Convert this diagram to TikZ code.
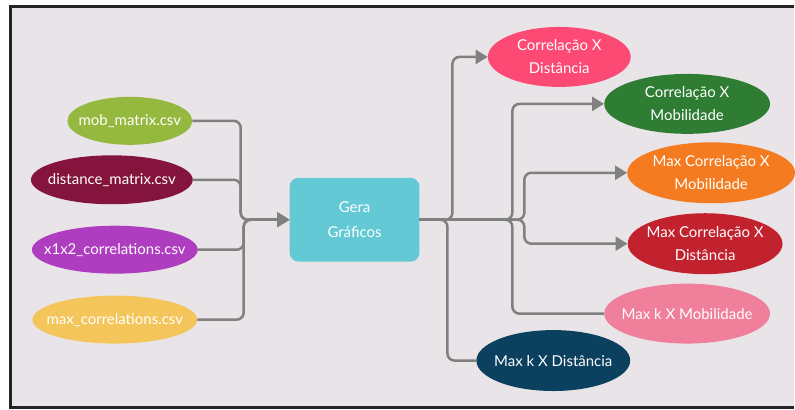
\documentclass[tikz,border=0pt]{standalone}
\usepackage{fontspec}
\setmainfont{Lato}
\usepackage{xcolor}
\usetikzlibrary{shapes.geometric,arrows.meta}

\definecolor{fundo}{HTML}{E8E4E8}
\definecolor{moldura}{HTML}{232328}
\definecolor{cinza}{HTML}{808080}
\definecolor{verdeclaro}{HTML}{95B83E}
\definecolor{vinho}{HTML}{84143C}
\definecolor{roxo}{HTML}{AE3DC0}
\definecolor{amarelo}{HTML}{F4C55A}
\definecolor{ciano}{HTML}{62C9D5}
\definecolor{rosa}{HTML}{FC4A75}
\definecolor{verde}{HTML}{2E7D33}
\definecolor{laranja}{HTML}{F47B20}
\definecolor{vermelho}{HTML}{C2212E}
\definecolor{rosaclaro}{HTML}{EF7F9B}
\definecolor{azul}{HTML}{0B405E}

\begin{document}
\begin{tikzpicture}[x=1pt,y=-1pt,
  oval/.style={ellipse, inner sep=-40pt, text=white, align=center,
    font=\fontsize{15}{23}\selectfont},
  liga/.style={draw=cinza, line width=2.5pt, rounded corners=7pt},
  >={Triangle[length=12pt,width=14pt]}]
% фон и рамка
\fill[white] (0,0) rectangle (795,410);
\fill[moldura] (9,5) rectangle (795,410);
\fill[fundo] (12,8) rectangle (795,407);
% входные файлы
\node [oval, fill=verdeclaro, minimum width=125pt, minimum height=48pt] (mob) at (130,121) {mob\_matrix.csv};
\node [oval, fill=vinho, minimum width=162pt, minimum height=49pt] (dist) at (112,180) {distance\_matrix.csv};
\node [oval, fill=roxo, minimum width=166pt, minimum height=48pt] (x1x2) at (115,250) {x1x2\_correlations.csv};
\node [oval, fill=amarelo, minimum width=165pt, minimum height=48pt] (maxc) at (115,320) {max\_correlations.csv};
% блок
\node [fill=ciano, rounded corners=9pt, minimum width=130pt, minimum height=84pt,
  text=white, align=center, font=\fontsize{15}{25}\selectfont] (gera) at (355,220) {Gera\\Gráficos};
% графики
\node [oval, fill=rosa, minimum width=143pt, minimum height=60pt] (cxd) at (560,57) {Correlação X\\Distância};
\node [oval, fill=verde, minimum width=166pt, minimum height=60pt] (cxm) at (688,104) {Correlação X\\Mobilidade};
\node [oval, fill=laranja, minimum width=168pt, minimum height=61pt] (mcxm) at (712,173) {Max Correlação X\\Mobilidade};
\node [oval, fill=vermelho, minimum width=155pt, minimum height=61pt] (mcxd) at (706,244) {Max Correlação X\\Distância};
\node [oval, fill=rosaclaro, minimum width=166pt, minimum height=60pt] (mkxm) at (688,314) {Max k X Mobilidade};
\node [oval, fill=azul, minimum width=154pt, minimum height=61pt] (mkxd) at (554,361) {Max k X Distância};
% точки ветвления
\coordinate (l1) at (241,220);
\coordinate (l2) at (244,220);
\coordinate (r1) at (453,220);
\coordinate (r2) at (448,220);
\coordinate (r3) at (513,220);
\coordinate (r4) at (525,220);
% линии слева
\draw [liga, ->] (mob.east) -| (l1) -- (gera.west);
\draw [liga, ->] (dist.east) -| (l1) -- (gera.west);
\draw [liga, ->] (x1x2.east) -| (l2) -- (gera.west);
\draw [liga, ->] (maxc.east) -| (l2) -- (gera.west);
% линии справа
\draw [liga, ->] (gera.east) -- (r1) |- (cxd.west);
\draw [liga, ->] (gera.east) -- (r3) |- (cxm.west);
\draw [liga, ->] (gera.east) -- (r4) |- (mcxm.west);
\draw [liga, ->] (gera.east) -- (r4) |- (mcxd.west);
\draw [liga] (gera.east) -- (r3) |- (mkxm.west);
\draw [liga] (gera.east) -- (r2) |- (mkxd.west);
\end{tikzpicture}
\end{document}
